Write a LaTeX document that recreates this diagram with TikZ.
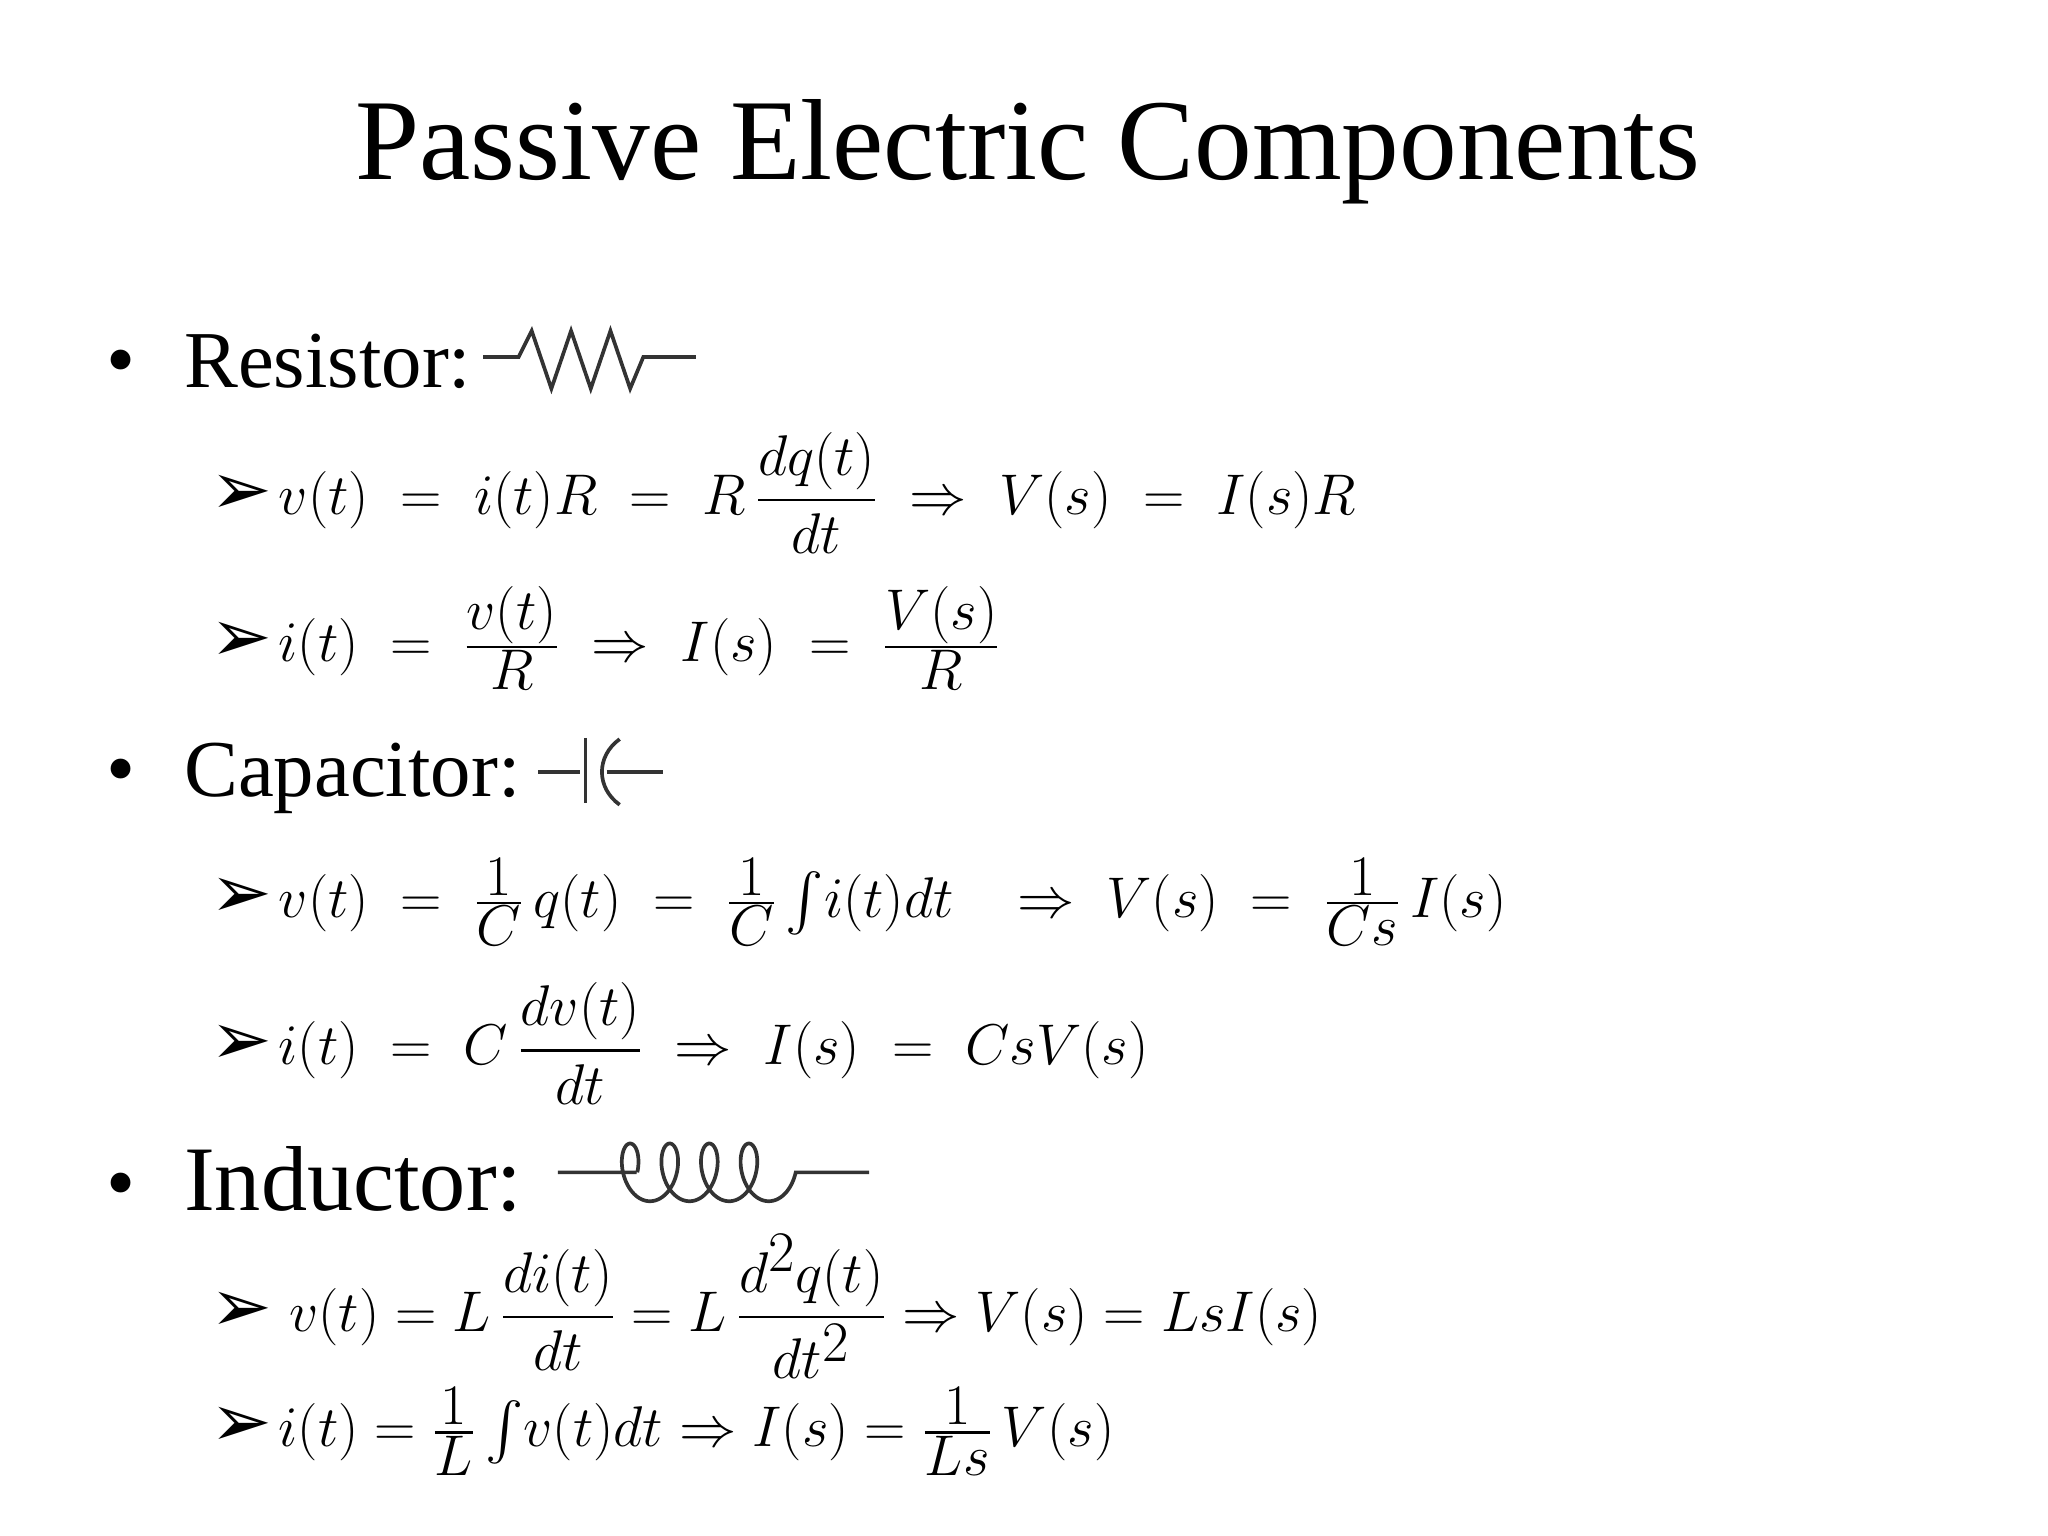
\documentclass[tikz,border=0pt]{standalone}
\usepackage{amsmath}
\usepackage{fontspec}
\setmainfont{Liberation Serif}
\newfontfamily\djv{DejaVu Sans}
\thickmuskip=10mu plus 3mu
\medmuskip=6mu plus 2mu
\newcommand{\tightsp}{\thickmuskip=5mu\relax\medmuskip=4mu\relax}
\tikzset{
 lbl/.style={anchor=base west,inner sep=0pt,font=\fontsize{35}{40}\selectfont},
 eq/.style={anchor=base west,inner sep=0pt,font=\fontsize{41}{46}\selectfont},
 eqs/.style={anchor=base west,inner sep=0pt,font=\fontsize{33}{40}\selectfont},
 arr/.style={anchor=base west,inner sep=0pt,font=\fontsize{32}{36}\djv},
 dot/.style={anchor=base,inner sep=0pt,font=\fontsize{36}{46}\selectfont},
 sym/.style={line width=1.6pt,black!80}
}
\begin{document}
\begin{tikzpicture}[x=0.02cm,y=-0.02cm]
\useasboundingbox (0,0) rectangle (1560,1170);
\node[anchor=base,inner sep=0pt,font=\fontsize{50}{60}\selectfont] (title) at (783,137) {Passive Electric Components};
% Resistor
\node[dot] (b1) at (92,295) {•};
\node[lbl] (res) at (140,295) {Resistor:};
\draw[sym] (368,272) coordinate (r0) -- (395,272) -- (405,252) -- (420,296) -- (435,252) -- (450,296) -- (465,252) -- (480,296) -- (490,272) -- (530,272) coordinate (r1);
\node[arr] (a1) at (160,392) {➢};
\node[eq] (e1) at (212,392) {$v(t)=i(t)R=R\,\dfrac{dq(t)}{dt}\Rightarrow V(s)=I(s)R$};
\node[arr] (a2) at (160,504) {➢};
\node[eq] (e2) at (212,504) {$i(t)=\tfrac{v(t)}{R}\Rightarrow I(s)=\tfrac{V(s)}{R}$};
% Capacitor
\node[dot] (b2) at (92,607) {•};
\node[lbl] (cap) at (140,607) {Capacitor:};
\draw[sym] (410,588) -- (442,588);
\draw[sym] (446,562) -- (446,612);
\draw[sym] (472,563) .. controls (454,576) and (454,600) .. (472,613);
\draw[sym] (462,588) -- (505,588);
\node[arr] (a3) at (160,699) {➢};
\node[eq] (e3) at (212,699) {$v(t)=\tfrac{1}{C}\,q(t)=\tfrac{1}{C}\,{\textstyle\int} i(t)dt\;\Rightarrow V(s)=\tfrac{1}{Cs}\,I(s)$};
\node[arr] (a4) at (160,811) {➢};
\node[eq] (e4) at (212,811) {$i(t)=C\,\dfrac{dv(t)}{dt}\Rightarrow I(s)=CsV(s)$};
% Inductor
\node[dot] (b3) at (92,922) {•};
\node[lbl,font=\fontsize{40}{46}\selectfont] (ind) at (140,922) {Inductor:};
\draw[sym] (425,893) -- (485,893)
  plot[domain=-90:1350,samples=240,smooth] ({480+0.0837758*\x-13*sin(\x)},{893-22*cos(\x)})
  -- (662,893);
\node[arr] (a5) at (160,1014) {➢};
\node[eqs] (e5) at (220,1014) {\tightsp$v(t)=L\,\dfrac{di(t)}{dt}=L\,\dfrac{d^2q(t)}{dt^2}\Rightarrow V(s)=LsI(s)$};
\node[arr] (a6) at (160,1102) {➢};
\node[eqs] (e6) at (212,1102) {\tightsp$i(t)=\tfrac{1}{L}\,{\textstyle\int} v(t)dt\Rightarrow I(s)=\tfrac{1}{Ls}\,V(s)$};
\end{tikzpicture}
\end{document}
